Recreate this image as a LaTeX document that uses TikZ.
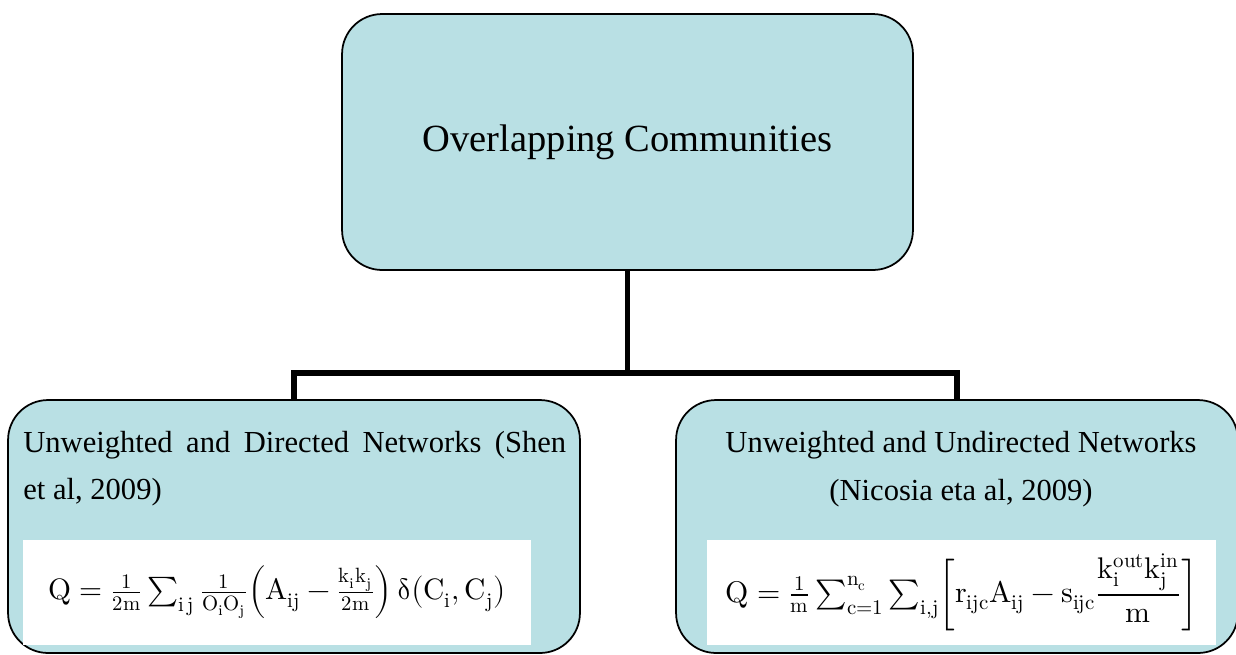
\documentclass[tikz,border=0pt]{standalone}
\usepackage{fontspec}
\usepackage{unicode-math}
\setmainfont{Liberation Serif}
\setmathfont{Latin Modern Math}
\usetikzlibrary{positioning}

\definecolor{boxblue}{RGB}{185,224,228}

\tikzset{
  catbox/.style={draw=black, line width=1pt, fill=boxblue, rounded corners=0.8cm, inner sep=0pt},
  link/.style={line width=3pt, line join=miter},
  eqbox/.style={fill=white, inner sep=0pt, minimum width=10.16cm, minimum height=2.1cm},
  cattext/.style={font=\fontsize{17.4}{27.3}\selectfont, inner sep=0pt},
}

\begin{document}
\begin{tikzpicture}[x=0.02cm,y=-0.02cm]
            \useasboundingbox (0,0) rectangle (1236,654);%

            % Drawing top category box
            \node [catbox, minimum width=11.42cm, minimum height=5.12cm,
                   font=\fontsize{21.9}{26}\selectfont] (root) at (627.5,142) {Overlapping Communities};%

            % Drawing the two sub-category boxes
            \node [catbox, minimum width=11.44cm, minimum height=5.06cm] (directed) at (294,526.5) {};%
            \node [catbox, minimum width=11.24cm, minimum height=5.06cm] (undirected) at (957,526.5) {};%

            % Writing the sub-category titles
            \node [cattext, text width=10.86cm, align=justify, anchor=base west] (dirlabel) at (23,452)
                  {Unweighted and Directed Networks (Shen\linebreak et al, 2009)};%
            \node [cattext, align=center, anchor=base] (undirlabel) at (961,500)
                  {Unweighted and Undirected Networks\\(Nicosia eta al, 2009)};%

            % Writing the modularity formulas in white boxes
            \node [eqbox, font=\fontsize{16.8}{20}\selectfont] (dirq) at (277,592.5)
                  {$\symup{Q} = \frac{1}{2\symup{m}}\sum\nolimits_{\symup{i\,j}}\frac{1}{\symup{O_iO_j}}\Bigl(\symup{A_{ij}} - \frac{\symup{k_ik_j}}{2\symup{m}}\Bigr)\,\symup{\delta}\bigl(\symup{C_i},\symup{C_j}\bigr)$};%
            \node [eqbox, minimum width=10.18cm, font=\fontsize{17}{20}\selectfont] (undirq) at (961.5,592.5)
                  {$\symup{Q} = \frac{1}{\symup{m}}\sum\nolimits_{\symup{c}=1}^{\symup{n_c}}\sum\nolimits_{\symup{i,j}}\biggl[\symup{r_{ijc}A_{ij}} - \symup{s_{ijc}}\dfrac{\symup{k_i^{out}k_j^{in}}}{\symup{m}}\biggr]$};%

            % Drawing connectors
            \coordinate (split) at (627.5,373);%
            \draw [link] (root.south) -- (split);%
            \draw [link] (split) -| (directed.north);%
            \draw [link] (split) -| (undirected.north);%
\end{tikzpicture}
\end{document}
